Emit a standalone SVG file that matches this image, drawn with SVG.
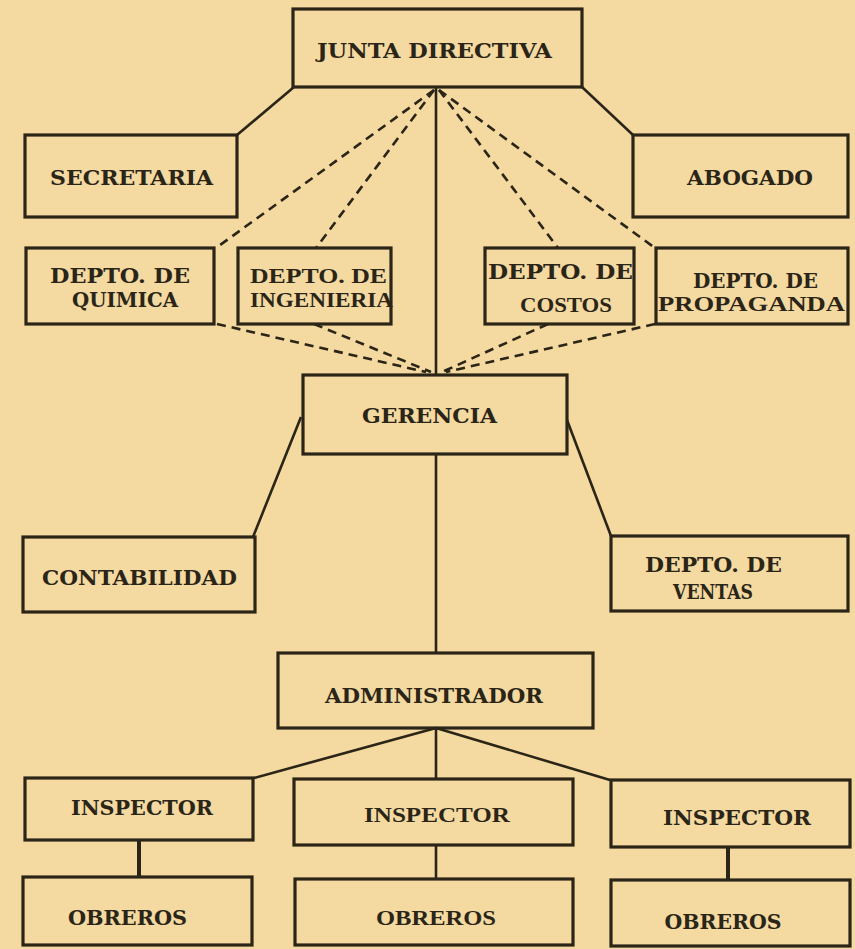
<svg xmlns="http://www.w3.org/2000/svg" width="855" height="949" viewBox="0 0 855 949">
<style>
.box{fill:none;stroke:#2a2517;stroke-width:3.2}
.ln{fill:none;stroke:#2a2517;stroke-width:2.6}
.thick{stroke-width:4}
.dash{fill:none;stroke:#2a2517;stroke-width:2.6;stroke-dasharray:9 6}
text{font-family:"DejaVu Serif","Liberation Serif",serif;font-weight:bold;font-size:20px;fill:#2a2517;text-anchor:middle}
text.lt{font-family:"Liberation Serif","DejaVu Serif",serif}
</style>
<rect width="855" height="949" fill="#f4d9a1"/>
<g id="connectors">
<line class="ln" x1="294" y1="87" x2="237" y2="135"/>
<line class="ln" x1="582" y1="87" x2="633" y2="135"/>
<line class="ln" x1="436" y1="87" x2="436" y2="375"/>
<line class="dash" x1="434" y1="90" x2="216" y2="248"/>
<line class="dash" x1="434" y1="90" x2="316" y2="248"/>
<line class="dash" x1="439" y1="90" x2="558" y2="248"/>
<line class="dash" x1="439" y1="90" x2="655" y2="248"/>
<line class="dash" x1="217" y1="324" x2="426" y2="372"/>
<line class="dash" x1="314" y1="324" x2="431" y2="372"/>
<line class="dash" x1="548" y1="324" x2="442" y2="372"/>
<line class="dash" x1="655" y1="324" x2="446" y2="372"/>
<line class="ln" x1="301" y1="417" x2="253" y2="537"/>
<line class="ln" x1="567" y1="420" x2="611" y2="536"/>
<line class="ln" x1="436" y1="454" x2="436" y2="653"/>
<line class="ln" x1="436" y1="728" x2="254" y2="778"/>
<line class="ln" x1="436" y1="728" x2="436" y2="779"/>
<line class="ln" x1="436" y1="728" x2="610" y2="780"/>
<line class="ln thick" x1="139" y1="840" x2="139" y2="877"/>
<line class="ln" x1="436" y1="845" x2="436" y2="879"/>
<line class="ln thick" x1="728" y1="847" x2="728" y2="880"/>
</g>
<g id="junta"><rect class="box" x="293" y="9" width="289" height="78"/><text x="434.5" y="58" font-size="21" textLength="235" lengthAdjust="spacingAndGlyphs">JUNTA DIRECTIVA</text></g>
<g id="secretaria"><rect class="box" x="25" y="135" width="212" height="82"/><text x="131.5" y="185" textLength="163" lengthAdjust="spacingAndGlyphs">SECRETARIA</text></g>
<g id="abogado"><rect class="box" x="633" y="135" width="215" height="82"/><text x="750" y="185" font-size="21" textLength="126" lengthAdjust="spacingAndGlyphs">ABOGADO</text></g>
<g id="quimica"><rect class="box" x="26" y="248" width="188" height="76"/><text x="120" y="283" font-size="21" textLength="140" lengthAdjust="spacingAndGlyphs">DEPTO. DE</text><text x="125" y="307" font-size="21" textLength="106" lengthAdjust="spacingAndGlyphs">QUIMICA</text></g>
<g id="ingenieria"><rect class="box" x="238" y="248" width="153" height="76"/><text class="lt" x="318.5" y="283" font-size="22" textLength="137" lengthAdjust="spacingAndGlyphs">DEPTO. DE</text><text class="lt" x="321.5" y="307" font-size="22" textLength="143" lengthAdjust="spacingAndGlyphs">INGENIERIA</text></g>
<g id="costos"><rect class="box" x="485" y="248" width="149" height="76"/><text x="560.5" y="279" font-size="21" textLength="145" lengthAdjust="spacingAndGlyphs">DEPTO. DE</text><text class="lt" x="566" y="312" font-size="22" textLength="92" lengthAdjust="spacingAndGlyphs">COSTOS</text></g>
<g id="propaganda"><rect class="box" x="656" y="248" width="192" height="76"/><text x="755.5" y="288" font-size="21" textLength="125" lengthAdjust="spacingAndGlyphs">DEPTO. DE</text><text class="lt" x="751.5" y="311" font-size="22" textLength="187" lengthAdjust="spacingAndGlyphs">PROPAGANDA</text></g>
<g id="gerencia"><rect class="box" x="303" y="375" width="264" height="79"/><text x="429.5" y="423" font-size="21" textLength="135" lengthAdjust="spacingAndGlyphs">GERENCIA</text></g>
<g id="contabilidad"><rect class="box" x="23" y="537" width="232" height="75"/><text x="139.5" y="585" font-size="21" textLength="195" lengthAdjust="spacingAndGlyphs">CONTABILIDAD</text></g>
<g id="ventas"><rect class="box" x="611" y="536" width="237" height="75"/><text x="713.5" y="572" font-size="21" textLength="137" lengthAdjust="spacingAndGlyphs">DEPTO. DE</text><text x="713" y="599" textLength="80" lengthAdjust="spacingAndGlyphs">VENTAS</text></g>
<g id="administrador"><rect class="box" x="278" y="653" width="315" height="75"/><text x="434" y="703" font-size="21" textLength="218" lengthAdjust="spacingAndGlyphs">ADMINISTRADOR</text></g>
<g id="inspector1"><rect class="box" x="25" y="778" width="228" height="62"/><text x="142" y="815" textLength="142" lengthAdjust="spacingAndGlyphs">INSPECTOR</text></g>
<g id="inspector2"><rect class="box" x="294" y="779" width="279" height="66"/><text class="lt" x="437" y="822" font-size="22" textLength="146" lengthAdjust="spacingAndGlyphs">INSPECTOR</text></g>
<g id="inspector3"><rect class="box" x="611" y="780" width="239" height="67"/><text x="737" y="825" textLength="148" lengthAdjust="spacingAndGlyphs">INSPECTOR</text></g>
<g id="obreros1"><rect class="box" x="23" y="877" width="229" height="68"/><text x="127.5" y="925" textLength="119" lengthAdjust="spacingAndGlyphs">OBREROS</text></g>
<g id="obreros2"><rect class="box" x="295" y="879" width="278" height="66"/><text class="lt" x="436" y="925" font-size="22" textLength="120" lengthAdjust="spacingAndGlyphs">OBREROS</text></g>
<g id="obreros3"><rect class="box" x="611" y="880" width="239" height="66"/><text x="723" y="929" textLength="117" lengthAdjust="spacingAndGlyphs">OBREROS</text></g>
</svg>
